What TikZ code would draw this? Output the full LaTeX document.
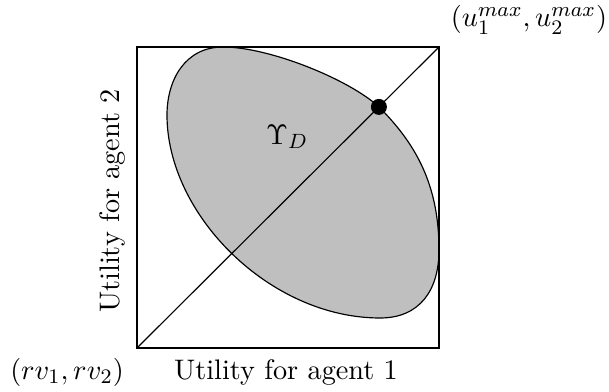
\documentclass[tikz,border=0pt,11pt]{standalone}
\usepackage{amsmath}
\usepackage{amssymb}
\usepackage{tikz}
\usetikzlibrary{calc,positioning}
\tikzset{%
  region/.style={draw,fill=black!25,line width=0.45pt},
  frame/.style={draw,line width=0.45pt},
  point/.style={circle,fill=black,inner sep=0pt,minimum size=6.2pt},
  axislabel/.style={inner sep=0pt,anchor=center}%
}

\begin{document}
\begin{tikzpicture}[x=0.3876pt,y=-0.3876pt]
\useasboundingbox (0,0) rectangle (609,392);

% Corners of the utility square
\coordinate (rv) at (137,348);
\coordinate (umax) at (439,47);

% Bargaining set
\draw[region] (223,47) .. controls (185,47) and (167,80) .. (167,115)
  .. controls (167,215) and (270,318) .. (380,318)
  .. controls (420,318) and (439,290) .. (439,250)
  .. controls (439,185) and (416,144) .. (379,107)
  .. controls (350,80) and (270,47) .. cycle;

% Square and diagonal
\draw[frame] (rv) rectangle (umax);
\draw[frame] (rv) -- (umax);
\node[point] (nash) at ($(rv)!0.801!(umax)$) {};

% Labels
\node (set) at (287,137) {$\Upsilon_D$};
\node[axislabel] (xlabel) at (286,372) {Utility for agent 1};
\node[axislabel,rotate=90] (ylabel) at (112,201) {Utility for agent 2};
\node[axislabel] (rvlabel) at (67,372) {$(rv_1,rv_2)$};
\node[axislabel] (umaxlabel) at (529,20) {$(u_1^{max},u_2^{max})$};

\end{tikzpicture}
\end{document}
